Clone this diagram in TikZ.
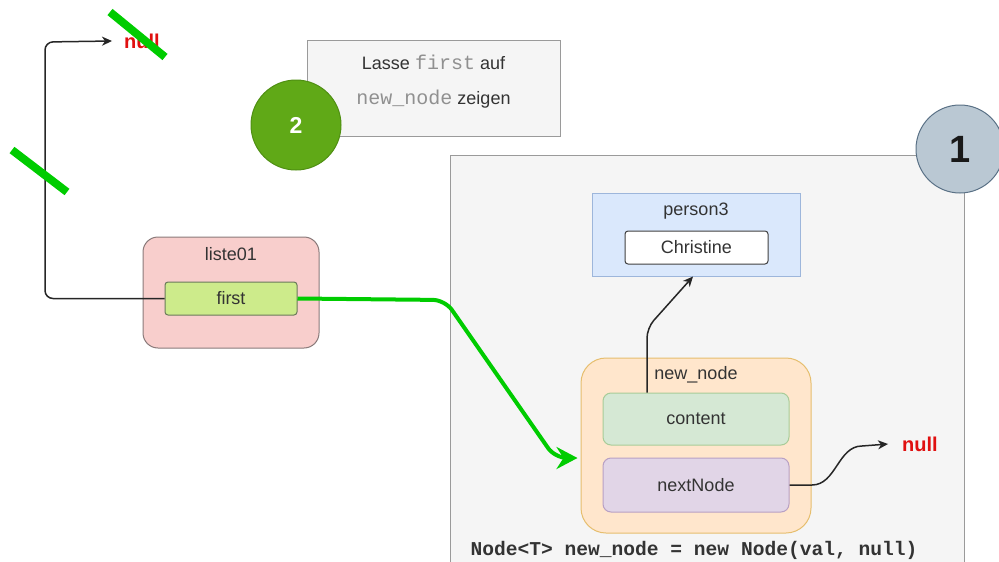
\documentclass[tikz,border=0pt]{standalone}
\usepackage{fontspec}
\setmainfont{Liberation Sans}
\setmonofont{Liberation Mono}
\usetikzlibrary{arrows.meta}
\definecolor{contfill}{HTML}{F5F5F5}
\definecolor{contdraw}{HTML}{9A9A9A}
\definecolor{onefill}{HTML}{BAC8D3}
\definecolor{onedraw}{HTML}{5A7186}
\definecolor{twofill}{HTML}{60A917}
\definecolor{twodraw}{HTML}{4F8F12}
\definecolor{listfill}{HTML}{F8CECC}
\definecolor{listdraw}{HTML}{8A7A7A}
\definecolor{firstfill}{HTML}{CDEB8B}
\definecolor{firstdraw}{HTML}{6A7A5A}
\definecolor{persfill}{HTML}{DAE8FC}
\definecolor{persdraw}{HTML}{9DB6DB}
\definecolor{nnfill}{HTML}{FFE6CC}
\definecolor{nndraw}{HTML}{E6BE6E}
\definecolor{contentfill}{HTML}{D5E8D4}
\definecolor{contentdraw}{HTML}{A8CC98}
\definecolor{nextfill}{HTML}{E1D5E7}
\definecolor{nextdraw}{HTML}{B8A0C4}
\definecolor{nullred}{HTML}{E01010}
\definecolor{grn}{HTML}{00CC00}
\definecolor{txt}{HTML}{333333}
\definecolor{codegray}{HTML}{909090}
\begin{document}
\begin{tikzpicture}[x=1pt,y=-1pt,
  box/.style={draw, inner sep=0pt, line width=1pt},
  lbl/.style={font=\fontsize{18}{21}\selectfont, text=txt, inner sep=0pt},
  nulltxt/.style={font=\bfseries\fontsize{20}{24}\selectfont, text=nullred, inner sep=0pt},
  blk/.style={draw=black!85, line width=1.5pt, -{Stealth[length=10pt,width=9pt,inset=3pt]}},
  greenarrow/.style={draw=grn, line width=4pt, -{Stealth[length=21pt,width=22pt,inset=7pt]}},
  strike/.style={draw=grn, line width=8pt}
]
\useasboundingbox (0,0) rectangle (999,562);
\clip (0,0) rectangle (999,562);

% container 1
\node[box, draw=contdraw, fill=contfill, minimum width=514pt, minimum height=460pt] (cont) at (707,385) {};
\node[box, circle, draw=onedraw, fill=onefill, minimum size=88pt, font=\bfseries\fontsize{38}{40}\selectfont, text=black!90] (one) at (960,149) {1};

% note and circle 2
\node[box, draw=contdraw, fill=contfill, minimum width=253pt, minimum height=96pt] (note) at (433.5,88) {};
\node[lbl, align=center, font=\fontsize{18}{35}\selectfont] (notetext) at ([yshift=6.5pt]note.center)
  {Lasse {\color{codegray}\fontsize{20}{35}\selectfont\ttfamily first} auf\\
   {\color{codegray}\fontsize{20}{35}\selectfont\ttfamily new\_node} zeigen};
\node[box, circle, draw=twodraw, fill=twofill, minimum size=90pt, font=\bfseries\fontsize{23}{26}\selectfont, text=white] (two) at (296,125) {2};

% liste01
\node[box, draw=listdraw, fill=listfill, rounded corners=15pt, minimum width=176pt, minimum height=111pt] (liste) at (231,292.5) {};
\node[lbl, anchor=center] (listelbl) at ([yshift=-18pt]liste.north) {liste01};
\node[box, draw=firstdraw, fill=firstfill, rounded corners=3pt, minimum width=132pt, minimum height=33pt, font=\fontsize{18}{21}\selectfont, text=txt] (first) at (231,298.5) {first};

% person3
\node[box, draw=persdraw, fill=persfill, minimum width=208pt, minimum height=83pt] (person) at (696,234.5) {};
\node[lbl] (perslbl) at ([yshift=-19pt]person.north) {person3};
\node[box, draw=black!75, fill=white, rounded corners=3pt, minimum width=143pt, minimum height=33pt, font=\fontsize{18}{21}\selectfont, text=txt] (christine) at (696.5,247.5) {Christine};

% new_node
\node[box, draw=nndraw, fill=nnfill, rounded corners=25pt, minimum width=230pt, minimum height=175pt] (newnode) at (696,445.5) {};
\node[lbl] (nnlbl) at ([yshift=-17pt]newnode.north) {new\_node};
\node[box, draw=contentdraw, fill=contentfill, rounded corners=8pt, minimum width=186pt, minimum height=52pt, font=\fontsize{18}{21}\selectfont, text=txt] (content) at (696,419) {content};
\node[box, draw=nextdraw, fill=nextfill, rounded corners=8pt, minimum width=186pt, minimum height=54pt, font=\fontsize{18}{21}\selectfont, text=txt] (next) at (696,485) {nextNode};

% code line
\node[inner sep=0pt, font=\bfseries\ttfamily\fontsize{19.6}{22}\selectfont, text=txt] (code) at (694,550) {Node<T> new\_node = new Node(val, null)};

% null texts
\node[nulltxt] (nullR) at (920,444) {null};
\node[nulltxt] (nullL) at (142,41) {null};

% connectors
\coordinate (bendL) at (45,42);
\draw[blk, rounded corners=8pt] (first.west) -| (bendL) -- ([xshift=-12pt]nullL.west);

\coordinate (cbend) at (647,328);
\draw[blk, rounded corners=10pt] ([xshift=-49pt]content.north) -- (cbend) -- ([xshift=-3pt]person.south);

\draw[blk] (next.east) -- (812,485) .. controls (836,485) and (838,446) .. (862,446) -- ([xshift=-14pt]nullR.west);

\coordinate (g1) at (445,300);
\coordinate (g2) at (555,458);
\draw[greenarrow, rounded corners=12pt] (first.east) -- (g1) -- (g2) -- ([xshift=-3pt,yshift=-12.5pt]newnode.west);

% strike marks
\draw[strike] (110,12) -- (165,57);
\draw[strike] (12,150) -- (67,192);
\end{tikzpicture}
\end{document}
